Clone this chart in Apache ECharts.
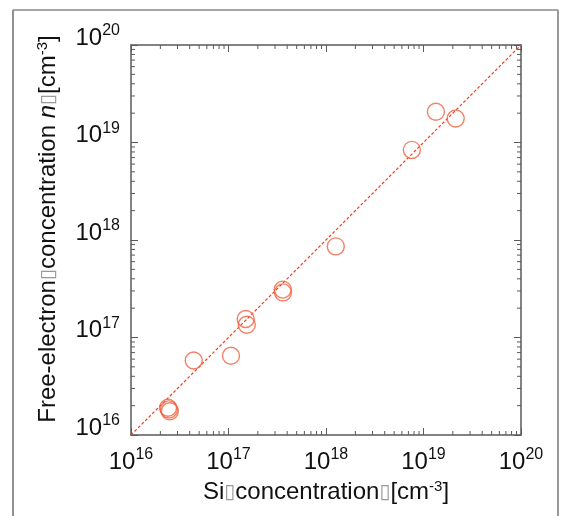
<!DOCTYPE html>
<html><head><meta charset="utf-8">
<script src="https://cdn.jsdelivr.net/npm/echarts@6/dist/echarts.min.js"></script>
<style>html,body{margin:0;padding:0;background:#fff}#c{width:565px;height:516px}</style>
</head><body><div id="c"></div>
<script>
// Data (log-log)
const siConcentration = [2.4e16, 2.5e16, 2.45e16, 4.4e16, 1.06e17, 1.50e17, 1.54e17, 3.60e17, 3.62e17, 1.26e18, 7.6e18, 1.34e19, 2.14e19];
const freeElectron   = [1.9e16, 1.75e16, 1.83e16, 5.8e16, 6.5e16, 1.55e17, 1.35e17, 3.1e17, 2.9e17, 8.6e17, 8.4e18, 2.07e19, 1.76e19];
const diagonal = [1e16, 1e20];
const tickLabels = ['16', '17', '18', '19', '20'];
const axisMin = 1e16, axisMax = 1e20;

const FONT = '"Liberation Sans", Arial, "DejaVu Sans", sans-serif';
const AXIS_COLOR = '#5a5a5a';

// minor tick values (2..9 x 10^k)
const minorVals = [];
for (let k = 16; k < 20; k++) for (let m = 2; m <= 9; m++) minorVals.push(m * Math.pow(10, k));

const labelRich = {
  b: {fontSize: 24, fontFamily: FONT, color: '#111'},
  s: {fontSize: 16, fontFamily: FONT, color: '#111', padding: [0, 0, 14, 0]}
};
const fmt = (v, i) => '{b|10}{s|' + tickLabels[i] + '}';

const nameRich = {
  t: {fontSize: 24, fontFamily: FONT, color: '#111'},
  i: {fontSize: 24, fontFamily: FONT, color: '#111', fontStyle: 'italic'},
  box: {fontSize: 20, fontFamily: '"DejaVu Sans", sans-serif', color: '#999'},
  s: {fontSize: 15, fontFamily: FONT, color: '#111', padding: [0, 0, 12, 0]}
};

const chart = echarts.init(document.getElementById('c'), null, {renderer: 'canvas'});

function minorTickRender(isX) {
  return function (params, api) {
    const v = api.value(isX ? 0 : 1);
    const L = 4;
    let a, b;
    if (isX) {
      a = api.coord([v, axisMin]); b = api.coord([v, axisMax]);
      return {type: 'group', children: [
        {type: 'line', shape: {x1: a[0], y1: a[1], x2: a[0], y2: a[1] - L}, style: {stroke: AXIS_COLOR, lineWidth: 1}},
        {type: 'line', shape: {x1: b[0], y1: b[1], x2: b[0], y2: b[1] + L}, style: {stroke: AXIS_COLOR, lineWidth: 1}}
      ]};
    } else {
      a = api.coord([axisMin, v]); b = api.coord([axisMax, v]);
      return {type: 'group', children: [
        {type: 'line', shape: {x1: a[0], y1: a[1], x2: a[0] + L, y2: a[1]}, style: {stroke: AXIS_COLOR, lineWidth: 1}},
        {type: 'line', shape: {x1: b[0], y1: b[1], x2: b[0] - L, y2: b[1]}, style: {stroke: AXIS_COLOR, lineWidth: 1}}
      ]};
    }
  };
}

const baseAxis = {
  type: 'log', logBase: 10, min: axisMin, max: axisMax,
  splitLine: {show: false},
  axisLine: {show: true, onZero: false, lineStyle: {color: AXIS_COLOR, width: 1.5}},
  axisTick: {show: true, inside: true, length: 7, lineStyle: {color: AXIS_COLOR, width: 1}}
};

chart.setOption({
  animation: false,
  backgroundColor: '#fff',
  grid: {left: 131, top: 45, width: 390, height: 390, containLabel: false},
  graphic: [
    {type: 'line', shape: {x1: 13, y1: 10, x2: 13, y2: 520}, style: {stroke: '#222', lineWidth: 1}},
    {type: 'line', shape: {x1: 13, y1: 10, x2: 558, y2: 10}, style: {stroke: '#888', lineWidth: 1.5}},
    {type: 'line', shape: {x1: 558, y1: 10, x2: 558, y2: 520}, style: {stroke: '#999', lineWidth: 2}}
  ],
  xAxis: [
    Object.assign({}, baseAxis, {
      position: 'bottom',
      axisLabel: {formatter: fmt, rich: labelRich, margin: 12},
      name: '{t|Si}{box|▯}{t|concentration}{box|▯}{t|[cm}{s|-3}{t|]}',
      nameLocation: 'middle', nameGap: 41, nameTextStyle: {rich: nameRich}
    }),
    Object.assign({}, baseAxis, {position: 'top', axisLabel: {show: false}})
  ],
  yAxis: [
    Object.assign({}, baseAxis, {
      position: 'left',
      axisLabel: {formatter: fmt, rich: labelRich, margin: 11, padding: [0, 0, 14, 0]},
      name: '{t|Free-electron}{box|▯}{t|concentration }{i|n}{box|▯}{t|[cm}{s|-3}{t|]}',
      nameLocation: 'middle', nameGap: 69, nameRotate: 90,
      nameTextStyle: {rich: nameRich, padding: [0, 0, 0, 22]}
    }),
    Object.assign({}, baseAxis, {position: 'right', axisLabel: {show: false}})
  ],
  series: [
    {
      type: 'line', xAxisIndex: 0, yAxisIndex: 0,
      data: diagonal.map(v => [v, v]), symbol: 'none',
      lineStyle: {color: '#ff3a1a', width: 1.2, type: [3, 2]}, z: 3
    },
    {
      type: 'scatter', xAxisIndex: 0, yAxisIndex: 0,
      data: siConcentration.map((x, i) => [x, freeElectron[i]]),
      symbol: 'circle', symbolSize: 17,
      itemStyle: {color: 'rgba(0,0,0,0)', borderColor: '#f2603e', borderWidth: 1.4}, z: 4
    },
    {
      type: 'custom', xAxisIndex: 0, yAxisIndex: 0, clip: false, silent: true,
      data: minorVals.map(v => [v, axisMin]), renderItem: minorTickRender(true), z: 2
    },
    {
      type: 'custom', xAxisIndex: 0, yAxisIndex: 0, clip: false, silent: true,
      data: minorVals.map(v => [axisMin, v]), renderItem: minorTickRender(false), z: 2
    }
  ]
});
</script></body></html>
